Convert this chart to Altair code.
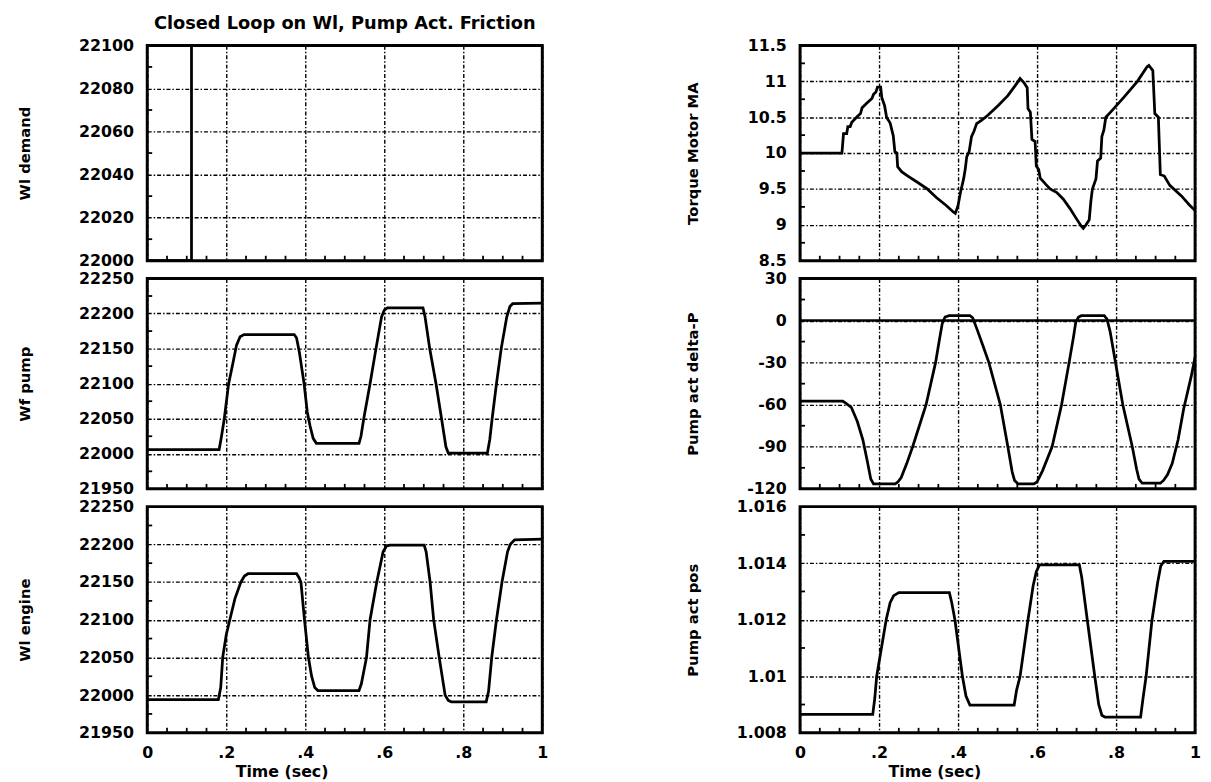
import altair as alt
import pandas as pd

FONT = "DejaVu Sans"

# ---------------- data ----------------
x_ticks = [0, 0.2, 0.4, 0.6, 0.8, 1]
minor_t = [0.05, 0.1, 0.15, 0.25, 0.3, 0.35, 0.45, 0.5, 0.55, 0.65, 0.7, 0.75, 0.85, 0.9, 0.95]

t_demand = [0.0, 0.112, 0.112, 1.0]
wf_demand = [22000, 22000, 22300, 22300]

t_pump = [0, 0.182, 0.188, 0.195, 0.206, 0.216, 0.226, 0.235, 0.245, 0.372, 0.378, 0.385,
          0.397, 0.405, 0.412, 0.420, 0.428, 0.536, 0.541, 0.548, 0.564, 0.579, 0.593,
          0.600, 0.608, 0.698, 0.703, 0.715, 0.731, 0.745, 0.756, 0.762, 0.861, 0.867,
          0.873, 0.884, 0.896, 0.910, 0.918, 0.925, 1.0]
wf_pump = [22006, 22006, 22025, 22050, 22100, 22127, 22155, 22167, 22170, 22170, 22165, 22145,
           22100, 22060, 22040, 22022, 22015, 22015, 22025, 22050, 22100, 22150, 22195,
           22205, 22208, 22208, 22196, 22150, 22100, 22050, 22010, 22001, 22001, 22020,
           22050, 22100, 22150, 22195, 22210, 22214, 22215]

t_engine = [0, 0.180, 0.186, 0.191, 0.200, 0.209, 0.222, 0.237, 0.246, 0.255, 0.378, 0.384,
            0.389, 0.398, 0.408, 0.416, 0.424, 0.432, 0.536, 0.542, 0.555, 0.564, 0.581,
            0.597, 0.606, 0.615, 0.701, 0.706, 0.716, 0.725, 0.739, 0.754, 0.762, 0.770,
            0.858, 0.864, 0.872, 0.884, 0.898, 0.912, 0.919, 0.930, 1.0]
wf_engine = [21994, 21994, 22010, 22050, 22080, 22100, 22128, 22150, 22158, 22161, 22161, 22156,
             22150, 22100, 22050, 22025, 22010, 22006, 22006, 22015, 22050, 22100, 22150,
             22190, 22198, 22199, 22199, 22190, 22150, 22100, 22050, 22000, 21993, 21991,
             21991, 22005, 22050, 22100, 22150, 22190, 22200, 22206, 22207]

t_torque = [0, 0.106, 0.110, 0.118, 0.121, 0.127, 0.131, 0.143, 0.153, 0.157, 0.170, 0.182,
            0.186, 0.192, 0.196, 0.204, 0.207, 0.214, 0.219, 0.228, 0.236, 0.240, 0.245,
            0.247, 0.257, 0.273, 0.298, 0.322, 0.345, 0.370, 0.388, 0.393, 0.400, 0.406,
            0.414, 0.418, 0.422, 0.428, 0.434, 0.440, 0.447, 0.460, 0.476, 0.501, 0.526,
            0.546, 0.557, 0.567, 0.575, 0.577, 0.583, 0.587, 0.595, 0.598, 0.604, 0.608,
            0.621, 0.633, 0.650, 0.666, 0.683, 0.699, 0.712, 0.717, 0.724, 0.732, 0.736,
            0.740, 0.749, 0.753, 0.761, 0.764, 0.769, 0.774, 0.786, 0.794, 0.820, 0.854,
            0.878, 0.883, 0.893, 0.898, 0.907, 0.912, 0.922, 0.936, 0.966, 0.985, 1.0]
torque_ma = [10.0, 10.0, 10.27, 10.27, 10.37, 10.37, 10.43, 10.5, 10.55, 10.63, 10.7, 10.76,
             10.82, 10.85, 10.92, 10.92, 10.77, 10.66, 10.5, 10.42, 10.24, 10.02, 10.0,
             9.81, 9.74, 9.68, 9.59, 9.5, 9.38, 9.27, 9.18, 9.16, 9.27, 9.45,
             9.64, 9.77, 9.95, 10.02, 10.23, 10.3, 10.41, 10.46, 10.53, 10.66, 10.8,
             10.95, 11.04, 10.98, 10.91, 10.62, 10.57, 10.19, 10.16, 9.82, 9.77, 9.65,
             9.57, 9.5, 9.45, 9.36, 9.23, 9.09, 8.98, 8.95, 9.0, 9.07, 9.32,
             9.5, 9.64, 9.89, 9.93, 10.23, 10.32, 10.5, 10.57, 10.62, 10.78, 11.0,
             11.2, 11.22, 11.15, 10.55, 10.5, 9.7, 9.68, 9.55, 9.4, 9.28, 9.2]

t_dp = [0, 0.108, 0.114, 0.130, 0.145, 0.159, 0.170, 0.179, 0.186, 0.241, 0.248, 0.256,
        0.270, 0.285, 0.302, 0.319, 0.331, 0.343, 0.352, 0.360, 0.367, 0.377, 0.430,
        0.437, 0.449, 0.463, 0.478, 0.507, 0.526, 0.537, 0.543, 0.552, 0.592, 0.600,
        0.614, 0.638, 0.662, 0.681, 0.692, 0.698, 0.705, 0.712, 0.770, 0.777, 0.785,
        0.793, 0.817, 0.841, 0.852, 0.858, 0.866, 0.912, 0.920, 0.930, 0.942, 0.957,
        0.971, 0.990, 1.0]
delta_p = [-57.5, -57.5, -58.5, -62, -72, -85, -100, -113, -116.5, -116.5, -115, -112,
           -102, -90, -75, -60, -45, -30, -15, -2, 2.5, 3.5, 3.5,
           2, -7, -18, -30, -60, -90, -108, -114, -116.5, -116.5, -115,
           -107, -90, -60, -30, -12, -1, 2.5, 3.5, 3.5, 1, -8,
           -21, -60, -90, -106, -113, -116, -116, -114, -110, -102, -85,
           -63, -40, -26]

t_pos = [0, 0.184, 0.189, 0.194, 0.206, 0.218, 0.228, 0.237, 0.250, 0.378, 0.384, 0.392,
         0.411, 0.420, 0.430, 0.542, 0.548, 0.557, 0.577, 0.590, 0.598, 0.606, 0.707,
         0.713, 0.727, 0.746, 0.756, 0.764, 0.772, 0.862, 0.868, 0.876, 0.891, 0.905,
         0.913, 0.921, 1.0]
act_pos = [1.00865, 1.00865, 1.0092, 1.0100, 1.0110, 1.0120, 1.0126, 1.01285, 1.01296, 1.01296,
           1.0126, 1.0120, 1.0100, 1.0093, 1.00898, 1.00898, 1.0095, 1.0100, 1.0120, 1.0132,
           1.0137, 1.01394, 1.01394, 1.0135, 1.0120, 1.0100, 1.0090, 1.00862, 1.00855,
           1.00855, 1.0092, 1.0100, 1.0120, 1.0133, 1.0139, 1.01406, 1.01406]

# axis tick values
demand_ticks = [22000, 22020, 22040, 22060, 22080, 22100]
wf_ticks = [21950, 22000, 22050, 22100, 22150, 22200, 22250]
torque_ticks = [8.5, 9, 9.5, 10, 10.5, 11, 11.5]
dp_ticks = [-120, -90, -60, -30, 0, 30]
pos_ticks = [1.008, 1.01, 1.012, 1.014, 1.016]

demand_minor = [22010, 22030, 22050, 22070, 22090]
wf_minor = [21975, 22025, 22075, 22125, 22175, 22225]
torque_minor = [8.75, 9.25, 9.75, 10.25, 10.75, 11.25]
dp_minor = [-105, -75, -45, -15, 15]
pos_minor = [1.009, 1.011, 1.013, 1.015]
zero_line = [0]

# ---------------- layout constants ----------------
W = 400
H_TOP, H_MID, H_BOT = 218, 213, 229
GRID_DASH = [4, 2, 1.5, 2]
XLBL = ("datum.value == 0 ? '0' : datum.value == 1 ? '1' : "
        "replace(format(datum.value, '.1f'), '0.', '.')")


def panel(t, v, ydomain, yticks, yminor, ytitle, height, title_x,
          bottom=False, title=None, zero=False):
    df = pd.DataFrame({"t": t, "v": v})
    xkw = dict(values=x_ticks, labels=bottom, ticks=False, domain=False, grid=True,
               gridColor="black", gridDash=GRID_DASH, gridWidth=1.4, gridOpacity=1,
               labelExpr=XLBL, labelPadding=12, labelFlush=False)
    if bottom:
        xkw.update(title="Time (sec)", titleX=136, titleY=39, titleAlign="center",
                   titleBaseline="middle", titleFontSize=16)
    else:
        xkw.update(title="")
    xenc = alt.X("t:Q", scale=alt.Scale(domain=[0, 1], nice=False, zero=False),
                 axis=alt.Axis(**xkw))
    yax = alt.Axis(values=yticks, ticks=False, domain=False, grid=True, gridColor="black",
                   gridDash=GRID_DASH, gridWidth=1.4, gridOpacity=1,
                   labelExpr="'' + datum.value", labelPadding=14, labelFlush=False,
                   title=ytitle, titleAngle=270, titleX=title_x, titleY=height / 2,
                   titleAlign="center", titleBaseline="middle", titleFontSize=15)
    yenc = alt.Y("v:Q", scale=alt.Scale(domain=ydomain, nice=False, zero=False), axis=yax)

    line = alt.Chart(df).mark_line(color="black", strokeWidth=2.8, clip=True,
                                   strokeJoin="miter").encode(x=xenc, y=yenc)
    layers = [line]
    tick_df = pd.DataFrame({"t": minor_t})
    layers.append(alt.Chart(tick_df).mark_rule(color="black", strokeWidth=1.8).encode(
        x=xenc, y=alt.value(height), y2=alt.value(height - 5)))
    ymin_df = pd.DataFrame({"v": yminor})
    layers.append(alt.Chart(ymin_df).mark_rule(color="black", strokeWidth=1.8).encode(
        y=yenc, x=alt.value(0), x2=alt.value(5)))
    if zero:
        zdf = pd.DataFrame({"v": zero_line})
        layers.append(alt.Chart(zdf).mark_rule(color="black", strokeWidth=2.4).encode(y=yenc))
    ch = alt.layer(*layers).properties(width=W, height=height)
    if title:
        ch = ch.properties(title=alt.TitleParams(title, fontSize=18, font=FONT,
                                                 fontWeight="bold", color="black",
                                                 offset=5, frame="group", anchor="middle"))
    return ch


LEFT_TX = -124
RIGHT_TX = -109

left = alt.vconcat(
    panel(t_demand, wf_demand, [22000, 22100], demand_ticks, demand_minor, "Wl demand",
          H_TOP, LEFT_TX, title="Closed Loop on Wl, Pump Act. Friction"),
    panel(t_pump, wf_pump, [21950, 22250], wf_ticks, wf_minor, "Wf pump", H_MID, LEFT_TX),
    panel(t_engine, wf_engine, [21950, 22250], wf_ticks, wf_minor, "Wl engine", H_BOT,
          LEFT_TX, bottom=True),
    spacing=18, bounds="flush")

right = alt.vconcat(
    panel(t_torque, torque_ma, [8.5, 11.5], torque_ticks, torque_minor, "Torque Motor MA",
          H_TOP, RIGHT_TX),
    panel(t_dp, delta_p, [-120, 30], dp_ticks, dp_minor, "Pump act delta-P", H_MID, RIGHT_TX,
          zero=True),
    panel(t_pos, act_pos, [1.008, 1.016], pos_ticks, pos_minor, "Pump act pos", H_BOT,
          RIGHT_TX, bottom=True),
    spacing=18, bounds="flush")

chart = alt.hconcat(left, right, spacing=135).properties(
    padding={"left": 8, "top": 0, "right": 0, "bottom": 0}
).configure(background="white").configure_view(
    stroke="black", strokeWidth=3
).configure_axis(
    labelFont=FONT, labelFontWeight="bold", labelFontSize=16, labelColor="black",
    titleFont=FONT, titleFontWeight="bold", titleColor="black"
)

chart.save("out.html", embed_options={"renderer": "svg", "actions": False})
